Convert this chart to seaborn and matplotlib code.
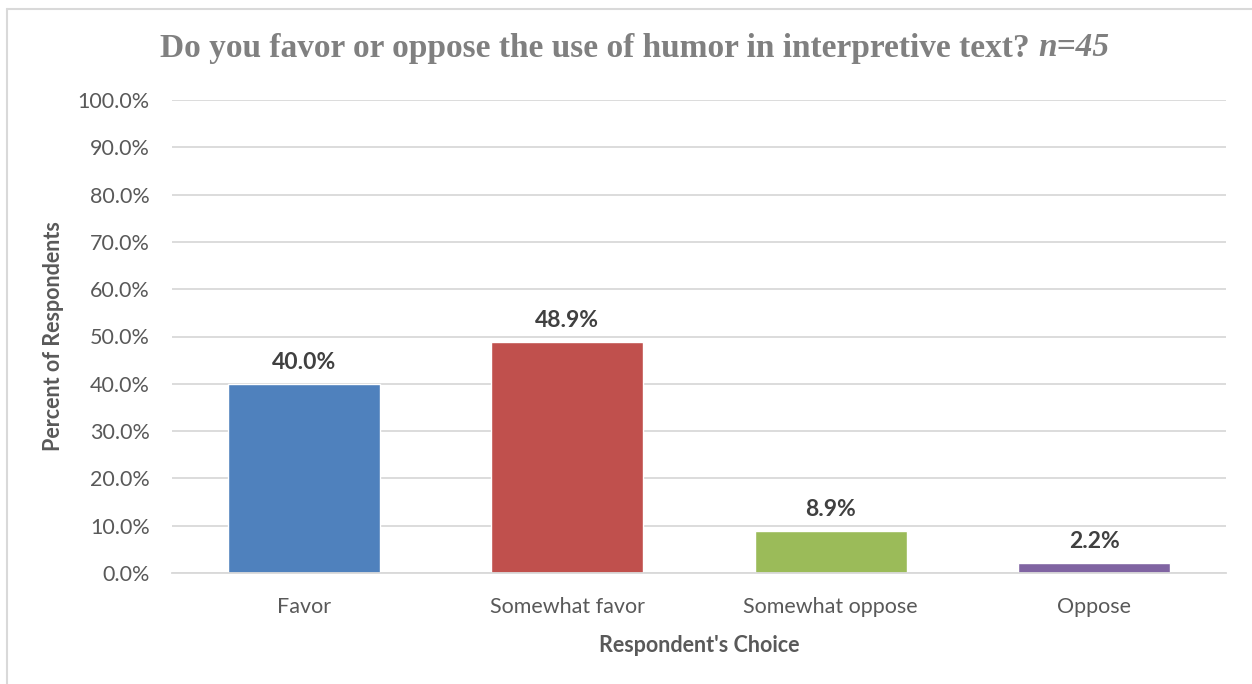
import matplotlib
matplotlib.use("Agg")
import matplotlib.pyplot as plt
import seaborn as sns
import pandas as pd
from matplotlib.lines import Line2D

# Survey responses (percent of respondents)
categories = ["Favor", "Somewhat favor", "Somewhat oppose", "Oppose"]
percents = [40.0, 48.9, 8.9, 2.2]
bar_colors = ["#4F81BD", "#C0504D", "#9BBB59", "#8064A2"]
yticks = [0, 10, 20, 30, 40, 50, 60, 70, 80, 90, 100]
ytick_labels = [f"{v:.1f}%" for v in yticks]

sns.set_theme(style="white")
plt.rcParams["font.family"] = ["Lato", "DejaVu Sans"]

df = pd.DataFrame({"choice": categories, "pct": percents})

W, H = 1252, 684
fig = plt.figure(figsize=(W / 100, H / 100), dpi=100)
ax = fig.add_axes([172 / W, 1 - 573 / H, (1226 - 172) / W, (573 - 100) / H])

sns.barplot(data=df, x="choice", y="pct", hue="choice", palette=bar_colors,
            width=0.575, legend=False, ax=ax, saturation=1)

ax.set_ylim(0, 100)
ax.set_xlim(-0.5, len(categories) - 0.5)
ax.set_yticks(yticks)
ax.set_yticklabels(ytick_labels)
ax.yaxis.grid(True, color="#D9D9D9", linewidth=1.3)
ax.set_axisbelow(True)
for s in ["top", "right", "left"]:
    ax.spines[s].set_visible(False)
ax.spines["bottom"].set_color("#D9D9D9")
ax.spines["bottom"].set_linewidth(1.3)
ax.tick_params(axis="both", length=0, labelsize=15.5, colors="#595959")
ax.tick_params(axis="y", pad=16)
ax.tick_params(axis="x", pad=17)

ax.set_xlabel("Respondent's Choice", fontsize=15.5, fontweight="bold", color="#595959", labelpad=13)
ax.set_ylabel("Percent of Respondents", fontsize=15.5, fontweight="bold", color="#595959", labelpad=10)

for i, v in enumerate(percents):
    ax.text(i, v + 2.3, f"{v:.1f}%", ha="center", va="bottom", fontsize=16.5,
            fontweight="bold", color="#404040")

# Title with an italic tail, centred as one line
title_main = "Do you favor or oppose the use of humor in interpretive text? "
title_tail = "n=45"
serif = ["Liberation Serif", "DejaVu Serif"]
ty = 1 - 48 / H
t1 = fig.text(0, ty, title_main, ha="left", va="center", fontsize=24,
              fontweight="bold", color="#808080", family=serif)
t2 = fig.text(0, ty, title_tail, ha="left", va="center", fontsize=24,
              fontweight="bold", style="italic", color="#808080", family=serif)
fig.canvas.draw()
r = fig.canvas.get_renderer()
w1 = t1.get_window_extent(r).width
w2 = t2.get_window_extent(r).width
x0 = 635 - (w1 + w2) / 2
t1.set_x(x0 / W)
t2.set_x((x0 + w1) / W)

# Chart frame
fig.add_artist(Line2D([7 / W, 7 / W], [0, 1 - 9 / H], transform=fig.transFigure,
                      color="#D9D9D9", linewidth=1.5))
fig.add_artist(Line2D([7 / W, 1], [1 - 9 / H, 1 - 9 / H], transform=fig.transFigure,
                      color="#D9D9D9", linewidth=1.5))

fig.savefig("out.png", dpi=100)
